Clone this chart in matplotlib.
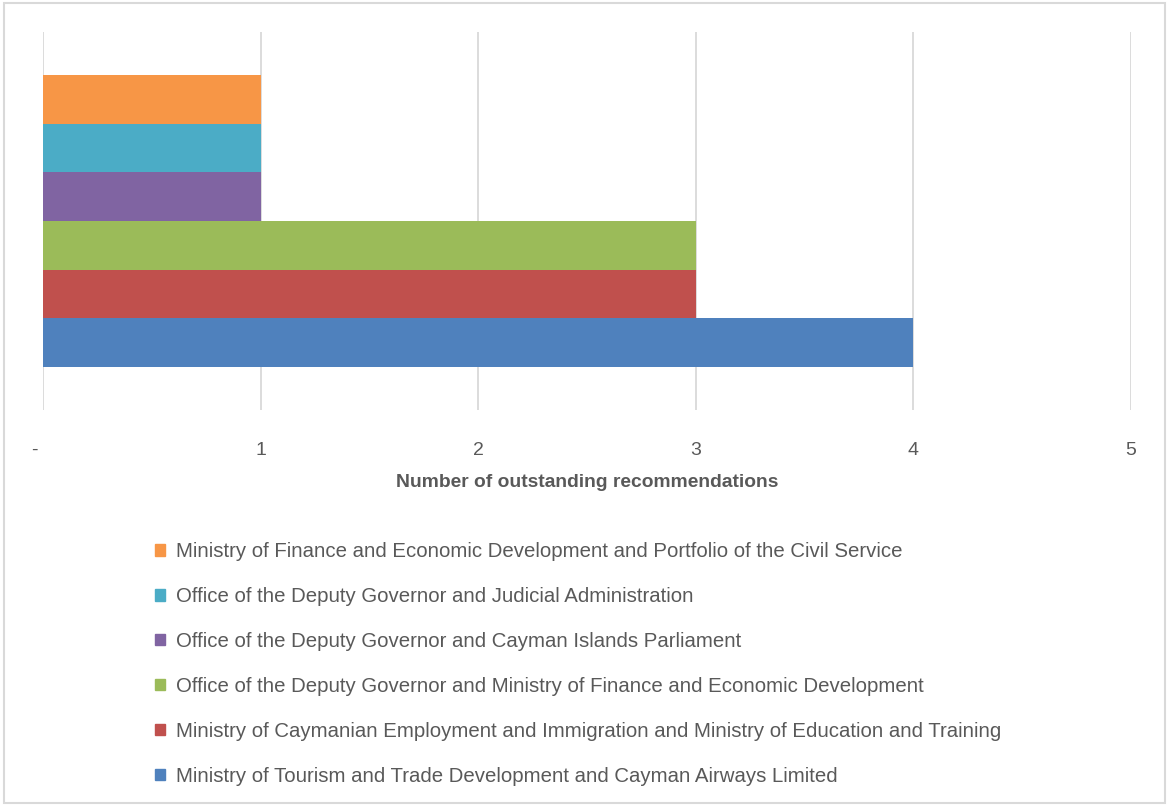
import matplotlib.pyplot as plt
from matplotlib.patches import Patch, Rectangle

# Series from bottom bar to top bar
series = [
    'Ministry of Tourism and Trade Development and Cayman Airways Limited',
    'Ministry of Caymanian Employment and Immigration and Ministry of Education and Training',
    'Office of the Deputy Governor and Ministry of Finance and Economic Development',
    'Office of the Deputy Governor and Cayman Islands Parliament',
    'Office of the Deputy Governor and Judicial Administration',
    'Ministry of Finance and Economic Development and Portfolio of the Civil Service',
]
values = [4, 3, 3, 1, 1, 1]
colors = ['#4F81BD', '#C0504D', '#9BBB59', '#8064A2', '#4BACC6', '#F79646']
x_ticks = [0, 1, 2, 3, 4, 5]
x_labels = ['-   ', '1', '2', '3', '4', '5']

plt.rcParams['font.family'] = ['Liberation Sans', 'DejaVu Sans']
txt = '#595959'

fig = plt.figure(figsize=(11.69, 8.09), dpi=100)
ax = fig.add_axes([43 / 1169, 1 - 410 / 809, 1088 / 1169, 378 / 809])

h = 48.7 / 378
n = len(values)
for i in range(n):
    ax.barh((i - (n - 1) / 2) * h, values[i], height=h, color=colors[i],
            label=series[i], zorder=2)

ax.set_xlim(0, 5)
ax.set_ylim(-0.5, 0.5)
ax.set_xticks(x_ticks)
ax.set_xticklabels(x_labels, color=txt, fontsize=14)
ax.set_yticks([])
ax.tick_params(axis='x', length=0, pad=23)
for s in ax.spines.values():
    s.set_visible(False)
ax.grid(axis='x', color='#D9D9D9', linewidth=1.3, zorder=0)
ax.set_xlabel('Number of outstanding recommendations', color=txt,
              fontsize=13.9, fontweight='bold', labelpad=11)

handles = [Patch(color=colors[i], label=series[i]) for i in range(n)][::-1]
fig.legend(handles=handles, loc='upper left', bbox_to_anchor=(155 / 1169, 1 - 542 / 809),
           frameon=False, fontsize=14.7, labelcolor=txt, handlelength=0.5,
           handleheight=0.5, handletextpad=0.55, labelspacing=1.27, borderpad=0,
           borderaxespad=0)

fig.patches.append(Rectangle((0.003, 0.008), 0.994, 0.988, transform=fig.transFigure,
                             fill=False, edgecolor='#D9D9D9', linewidth=1.5))

fig.savefig('out.png', dpi=100)
